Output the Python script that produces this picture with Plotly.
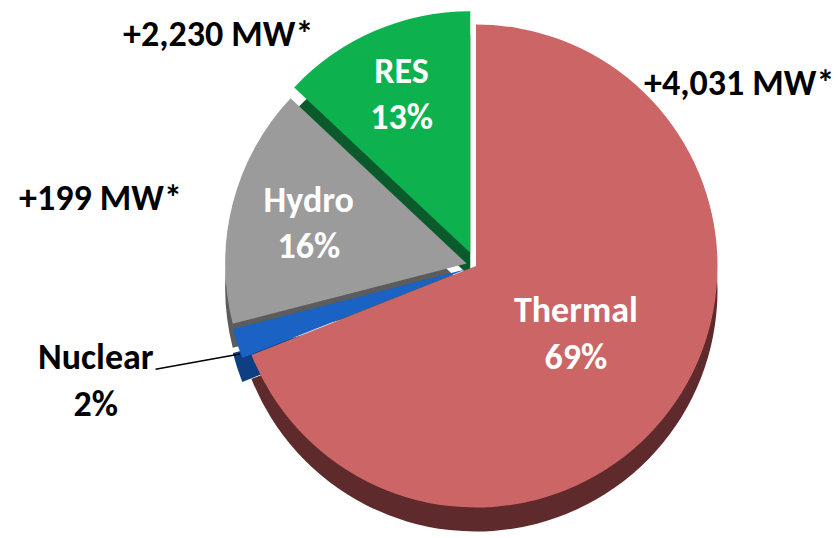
import plotly.graph_objects as go

# ---- data ----
labels = ["Thermal", "Nuclear", "Hydro", "RES"]
shares = [69, 2, 16, 13]
pulls = [0, 0.04, 0.04, 0.06]
top_colors = ["#CB6566", "#1A62C4", "#9B9B9B", "#0DB14E"]
side_colors = ["#5E2A2C", "#0E3F82", "#5C5C5C", "#0B5A2C"]
added_capacity = ["+4,031 MW*", "+199 MW*", "+2,230 MW*"]
inside_templates = ["%{label}<br>%{percent:.0%}", "", "%{label}<br>%{percent:.0%}", "%{label}<br>%{percent:.0%}"]

W, H = 839, 538
FONT = "Carlito, Lato, 'Open Sans', sans-serif"

cx = 468          # pie centre (px)
cy_top = 258
depth = 24
half = 256        # half of domain box (px)

def dom(cx_, cy_):
    return dict(x=[(cx_ - half) / W, (cx_ + half) / W],
                y=[max(0, 1 - (cy_ + half) / H), min(1, 1 - (cy_ - half) / H)])

fig = go.Figure()

# side wall (darker pie, shifted down)
fig.add_trace(go.Pie(
    labels=labels, values=shares, pull=pulls, sort=False,
    direction="clockwise", rotation=0,
    marker=dict(colors=side_colors, line=dict(width=0)),
    textinfo="none", hoverinfo="skip",
    domain=dom(cx, cy_top + depth), showlegend=False,
))

# top face
fig.add_trace(go.Pie(
    labels=labels, values=shares, pull=pulls, sort=False,
    direction="clockwise", rotation=0,
    marker=dict(colors=top_colors, line=dict(width=0)),
    texttemplate=inside_templates, textposition="inside",
    insidetextorientation="horizontal",
    insidetextfont=dict(family=FONT, size=36, color="white", weight="bold"),
    domain=dom(cx, cy_top), showlegend=False,
))

ann_font = dict(family=FONT, size=36, color="black", weight="bold")
fig.add_annotation(x=731 / W, y=1 - 75 / H, xref="paper", yref="paper",
                   xanchor="center", yanchor="middle",
                   text=added_capacity[0], showarrow=False, font=ann_font)
fig.add_annotation(x=92 / W, y=1 - 190 / H, xref="paper", yref="paper",
                   xanchor="center", yanchor="middle",
                   text=added_capacity[1], showarrow=False, font=ann_font)
fig.add_annotation(x=210 / W, y=1 - 26 / H, xref="paper", yref="paper",
                   xanchor="center", yanchor="middle",
                   text=added_capacity[2], showarrow=False, font=ann_font)

# Nuclear outside label with leader line
fig.add_annotation(x=232 / W, y=1 - 346 / H, xref="paper", yref="paper",
                   text=labels[1] + "<br>" + f"{shares[1]}%",
                   showarrow=True, arrowhead=0, arrowwidth=1.5, arrowcolor="black",
                   ax=88 - 232, ay=372 - 346, font=ann_font, align="center")

fig.update_layout(
    width=W, height=H,
    margin=dict(l=0, r=0, t=0, b=0),
    paper_bgcolor="white", plot_bgcolor="white",
    showlegend=False,
)

fig.write_html("out.html")
